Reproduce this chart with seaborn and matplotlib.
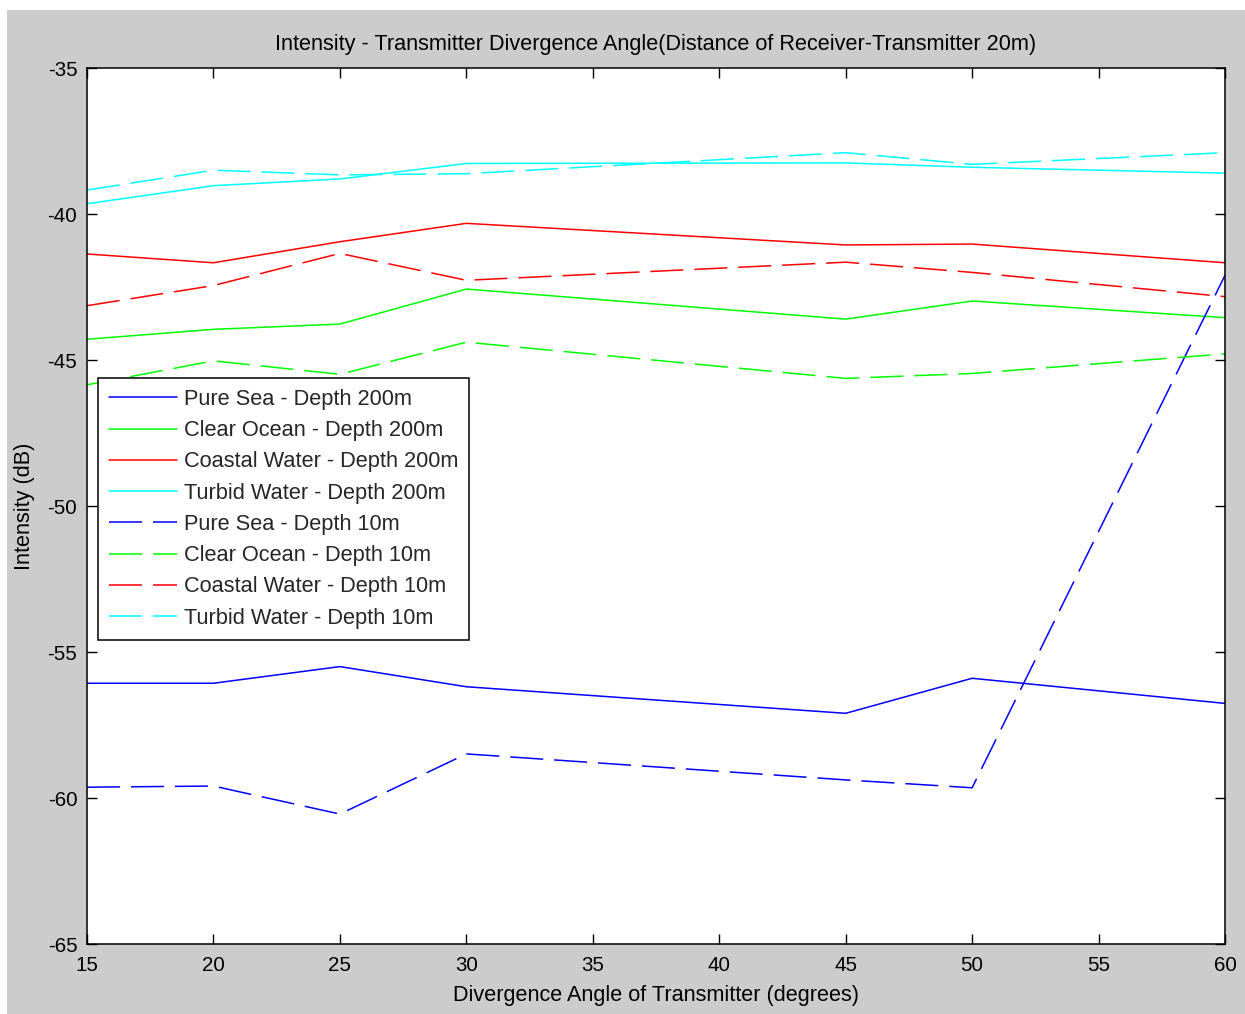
import numpy as np
import pandas as pd
import matplotlib
matplotlib.use("Agg")
import matplotlib.pyplot as plt
from matplotlib.patches import Rectangle
import seaborn as sns

# Divergence angles of the transmitter (degrees)
angles = [15, 20, 25, 30, 45, 50, 60]

# Received intensity (dB) at a receiver-transmitter distance of 20 m
pure_sea_200 = [-56.07, -56.07, -55.50, -56.19, -57.10, -55.90, -56.76]
clear_ocean_200 = [-44.29, -43.95, -43.77, -42.57, -43.60, -42.98, -43.55]
coastal_200 = [-41.37, -41.67, -40.95, -40.32, -41.06, -41.03, -41.67]
turbid_200 = [-39.65, -39.03, -38.80, -38.27, -38.25, -38.40, -38.60]
pure_sea_10 = [-59.63, -59.59, -60.55, -58.49, -59.38, -59.65, -42.10]
clear_ocean_10 = [-45.85, -45.03, -45.49, -44.39, -45.63, -45.46, -44.79]
coastal_10 = [-43.14, -42.45, -41.35, -42.27, -41.65, -42.00, -42.83]
turbid_10 = [-39.18, -38.50, -38.66, -38.62, -37.90, -38.30, -37.90]

labels = [
    "Pure Sea - Depth 200m",
    "Clear Ocean - Depth 200m",
    "Coastal Water - Depth 200m",
    "Turbid Water - Depth 200m",
    "Pure Sea - Depth 10m",
    "Clear Ocean - Depth 10m",
    "Coastal Water - Depth 10m",
    "Turbid Water - Depth 10m",
]
series = [pure_sea_200, clear_ocean_200, coastal_200, turbid_200,
          pure_sea_10, clear_ocean_10, coastal_10, turbid_10]

df = pd.concat(
    [pd.DataFrame({"angle": angles, "intensity": vals, "series": lab})
     for lab, vals in zip(labels, series)],
    ignore_index=True,
)

colors = ["#0000FF", "#00FF00", "#FF0000", "#00FFFF"] * 2
palette = dict(zip(labels, colors))
dash = (21.6, 7.2)
dashes = {lab: ("" if "200m" in lab else dash) for lab in labels}

sns.set_theme(style="white")
plt.rcParams["font.family"] = ["Liberation Sans", "DejaVu Sans"]
plt.rcParams["axes.unicode_minus"] = False

fig = plt.figure(figsize=(12.45, 10.14), dpi=100, facecolor="white")
fig.patches.append(Rectangle((7 / 1245, 0), 1, (1014 - 10) / 1014,
                             transform=fig.transFigure, facecolor="#CCCCCC",
                             edgecolor="none", zorder=-10))
ax = fig.add_axes([87 / 1245, 70 / 1014, 1138 / 1245, 876 / 1014])
ax.set_facecolor("white")

sns.lineplot(data=df, x="angle", y="intensity", hue="series", style="series",
             hue_order=labels, style_order=labels, palette=palette,
             dashes=dashes, estimator=None, linewidth=1.1, legend=False, ax=ax)

ax.set_xlim(15, 60)
ax.set_ylim(-65, -35)
ax.set_xticks(np.arange(15, 61, 5))
ax.set_yticks(np.arange(-65, -34, 5))
ax.tick_params(direction="in", length=7, width=1, colors="black",
               labelsize=14.8, top=True, right=True, bottom=True, left=True)
ax.tick_params(axis="x", pad=8.5)
ax.tick_params(axis="y", pad=7)
for sp in ax.spines.values():
    sp.set_visible(True)
    sp.set_color("black")
    sp.set_linewidth(1.1)

ax.set_title("Intensity - Transmitter Divergence Angle(Distance of Receiver-Transmitter 20m)",
             fontsize=15.6, pad=13, color="black")
ax.set_xlabel("Divergence Angle of Transmitter (degrees)", fontsize=15.6, color="black",
              labelpad=7)
ax.set_ylabel("Intensity (dB)", fontsize=15.6, color="black", labelpad=9)

handles = list(ax.lines[:len(labels)])
leg = ax.legend(handles, labels, loc="upper left",
                bbox_to_anchor=(11 / 1138, (944 - 378) / 876), borderaxespad=0,
                fontsize=15.7, handlelength=3.1, handletextpad=0.35,
                labelspacing=0.47, borderpad=0.5, fancybox=False,
                framealpha=1, edgecolor="black")
leg.get_frame().set_linewidth(1.1)

fig.savefig("out.png", dpi=100, facecolor=fig.get_facecolor())
